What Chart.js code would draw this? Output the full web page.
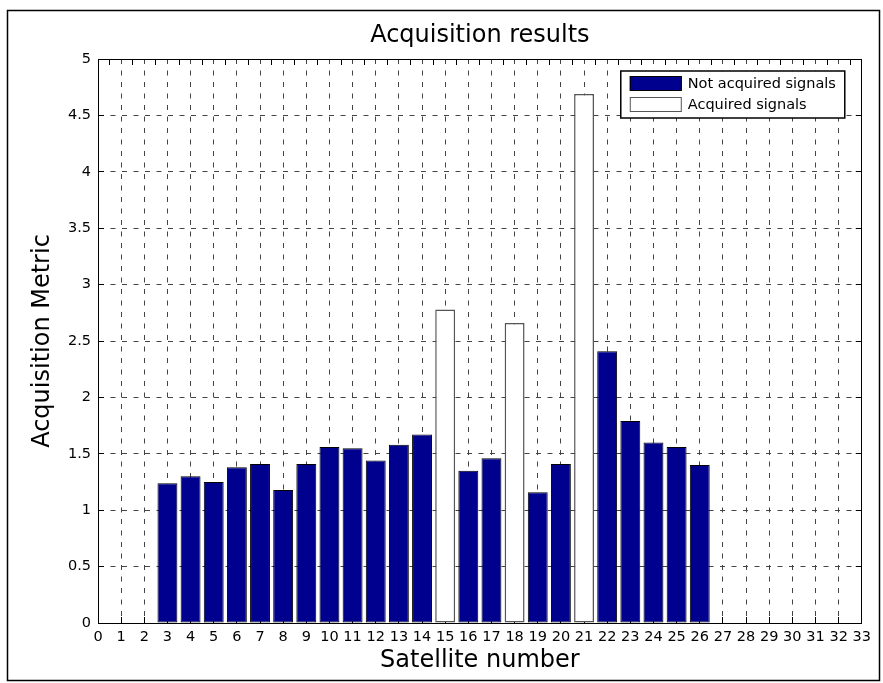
<!DOCTYPE html>
<html>
<head>
<meta charset="utf-8">
<title>Acquisition results</title>
<script src="https://cdn.jsdelivr.net/npm/chart.js@4/dist/chart.umd.min.js"></script>
<style>
  html, body { margin: 0; padding: 0; background: #fff; }
  canvas { display: block; }
</style>
</head>
<body>
<canvas id="acq-chart" width="883" height="683"></canvas>
<script>
// Satellite numbers (PRN) and acquisition metric
const satellites = [3, 4, 5, 6, 7, 8, 9, 10, 11, 12, 13, 14, 15, 16, 17, 18, 19, 20, 21, 22, 23, 24, 25, 26];
const metric = [1.24, 1.30, 1.25, 1.38, 1.41, 1.18, 1.41, 1.56, 1.55, 1.44, 1.58, 1.67,
                2.78, 1.35, 1.46, 2.66, 1.16, 1.41, 4.69, 2.41, 1.79, 1.60, 1.56, 1.40];
// Satellites whose signal was acquired
const acquiredSats = [15, 18, 21];

// Axis ranges
const xMin = 0, xMax = 33, xStep = 1;
const yMin = 0, yMax = 5, yStep = 0.5;

const FONT = "'DejaVu Sans', 'Liberation Sans', sans-serif";
const colors = {
    navy: '#00008f',
    white: '#ffffff',
    edge: '#000000',
    edgeLight: '#555555',
    grid: '#444444'
};

// Split the series in two datasets (acquired / not acquired)
const notAcquiredPoints = [];
const acquiredPoints = [];
satellites.forEach((sat, i) => {
    const point = { x: sat, y: metric[i] };
    if (acquiredSats.includes(sat)) {
        acquiredPoints.push(point);
    } else {
        notAcquiredPoints.push(point);
    }
});

// Figure frame (white background + thin black border like the MATLAB export)
const figureFrame = {
    id: 'figureFrame',
    beforeDraw(chart) {
        const ctx = chart.ctx;
        ctx.save();
        ctx.fillStyle = '#fff';
        ctx.fillRect(0, 0, chart.width, chart.height);
        ctx.strokeStyle = '#000';
        ctx.lineWidth = 1.5;
        ctx.strokeRect(7.5, 10.5, 872, 670);
        ctx.restore();
    }
};

// Boxed legend inside the top-right corner of the plot area
const boxLegend = {
    id: 'boxLegend',
    afterDraw(chart) {
        const { ctx, chartArea } = chart;
        const w = 224, h = 47;
        const left = chartArea.right - 17 - w;
        const top = chartArea.top + 12;

        ctx.save();
        ctx.fillStyle = '#fff';
        ctx.strokeStyle = '#000';
        ctx.lineWidth = 1.5;
        ctx.fillRect(left, top, w, h);
        ctx.strokeRect(left, top, w, h);

        ctx.font = '14.5px ' + FONT;
        ctx.textBaseline = 'middle';
        ctx.textAlign = 'left';
        chart.data.datasets.forEach((ds, i) => {
            const rowY = top + 5 + i * 21;
            ctx.fillStyle = ds.backgroundColor;
            ctx.fillRect(left + 9, rowY, 52, 15);
            ctx.lineWidth = 1;
            ctx.strokeStyle = ds.borderColor;
            ctx.strokeRect(left + 9.5, rowY + 0.5, 51, 14);
            ctx.fillStyle = '#000';
            ctx.fillText(ds.label, left + 67, rowY + 8);
        });
        ctx.restore();
    }
};

// Common options for the inward MATLAB-style ticks
const inwardTicks = {
    drawTicks: true,
    tickLength: -6,
    tickColor: '#000',
    tickWidth: 1
};

new Chart(document.getElementById('acq-chart'), {
    type: 'bar',
    data: {
        datasets: [{
            label: 'Not acquired signals',
            data: notAcquiredPoints,
            backgroundColor: colors.navy,
            borderColor: colors.edge,
            borderWidth: 1,
            borderSkipped: false,
            grouped: false,
            categoryPercentage: 1,
            barPercentage: 0.86
        }, {
            label: 'Acquired signals',
            data: acquiredPoints,
            backgroundColor: colors.white,
            borderColor: colors.edgeLight,
            borderWidth: 1.5,
            borderSkipped: false,
            grouped: false,
            categoryPercentage: 1,
            barPercentage: 0.86
        }]
    },
    options: {
        responsive: false,
        animation: false,
        layout: {
            padding: { left: 0, right: 21, top: 0, bottom: 0 }
        },
        plugins: {
            legend: { display: false },
            tooltip: { enabled: false },
            title: {
                display: true,
                fullSize: false, // centre the title over the plot area
                text: 'Acquisition results',
                color: '#000',
                font: { family: FONT, size: 24, weight: 'normal' },
                padding: { top: 21, bottom: 9.2 }
            }
        },
        scales: {
            x: {
                type: 'linear',
                position: 'bottom',
                min: xMin,
                max: xMax,
                offset: false,
                grid: Object.assign({ color: colors.grid, lineWidth: 1, offset: false }, inwardTicks),
                border: { display: true, color: '#000', width: 1, dash: [5, 6.5] },
                ticks: {
                    stepSize: xStep,
                    autoSkip: false,
                    maxRotation: 0,
                    padding: 12,
                    color: '#000',
                    font: { family: FONT, size: 14.5 }
                },
                title: {
                    display: true,
                    text: 'Satellite number',
                    color: '#000',
                    font: { family: FONT, size: 24 },
                    padding: { top: 0, bottom: 8 }
                },
                afterFit(scale) { scale.height = 60; }
            },
            x2: {
                type: 'linear',
                position: 'top',
                min: xMin,
                max: xMax,
                offset: false,
                grid: Object.assign({ drawOnChartArea: false }, inwardTicks),
                border: { display: true, color: '#000', width: 1 },
                ticks: { stepSize: xStep, autoSkip: false, display: false },
                afterFit(scale) { scale.height = 0; }
            },
            y: {
                type: 'linear',
                position: 'left',
                min: yMin,
                max: yMax,
                grid: Object.assign({ color: colors.grid, lineWidth: 1 }, inwardTicks),
                border: { display: true, color: '#000', width: 1, dash: [5, 6.5] },
                ticks: {
                    stepSize: yStep,
                    padding: 13,
                    color: '#000',
                    font: { family: FONT, size: 14.5 },
                    callback: value => String(Math.round(value * 10) / 10)
                },
                title: {
                    display: true,
                    text: 'Acquisition Metric',
                    color: '#000',
                    font: { family: FONT, size: 24 },
                    padding: { top: 28.6, bottom: 0 }
                },
                afterFit(scale) { scale.width = 98; }
            },
            y2: {
                type: 'linear',
                position: 'right',
                min: yMin,
                max: yMax,
                grid: Object.assign({ drawOnChartArea: false }, inwardTicks),
                border: { display: true, color: '#000', width: 1 },
                ticks: { stepSize: yStep, display: false },
                afterFit(scale) { scale.width = 0; }
            }
        }
    },
    plugins: [figureFrame, boxLegend]
});
</script>
</body>
</html>
